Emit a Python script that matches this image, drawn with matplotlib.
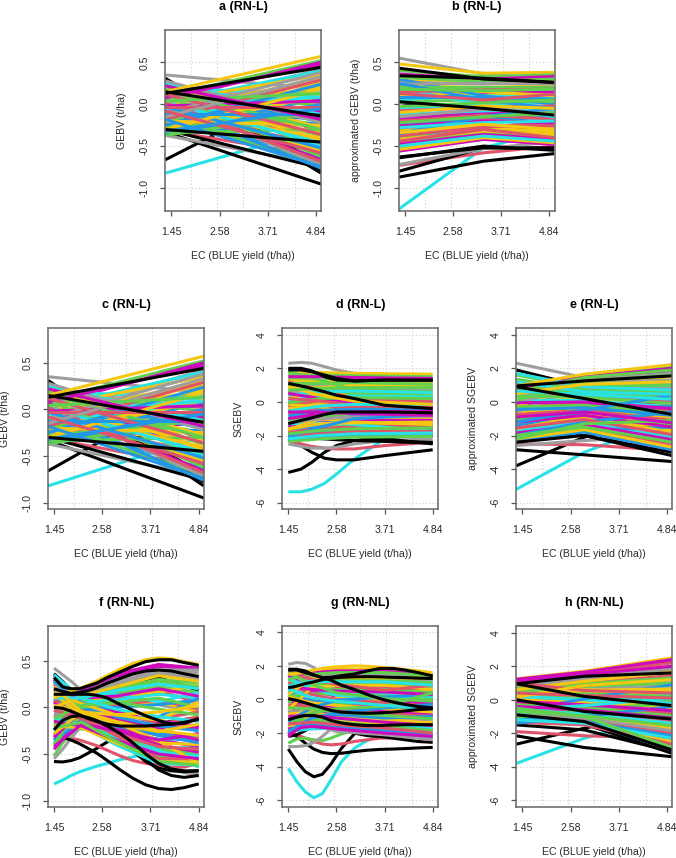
import matplotlib
matplotlib.use("Agg")
import matplotlib.pyplot as plt

plt.rcParams['font.family'] = ['Liberation Sans', 'DejaVu Sans']

PALETTE = dict(k='#000000', r='#DF536B', g='#61D04F', b='#2297E6',
               c='#28E2E5', m='#CD0BBC', y='#F5C710', a='#9E9E9E')
X_TICKS = [1.45, 2.58, 3.71, 4.84]
X_LABEL = "EC (BLUE yield (t/ha))"

# --- a / c : linear reaction norms (value at left edge, value at right edge)
ac_x = [1.31, 4.96]
ac_under = [[-.82,-.29],[-.66,.28],[-.33,-.95],[-.31,-.62],[.35,.18],[-.37,-.72],[.31,-.82],[.30,-.78],[-.30,-.76],[.28,-.70],[-.22,.10]]
ac_under_c = "ckkraakkkkk"
ac_bulk = [[.10,.52],[.05,.50],[.08,.47],[-.05,.42],[.02,.40],[-.10,.38],[-.02,.36],[.03,.35],[-.15,.33],[-.08,.30],
           [-.18,.29],[-.12,.27],[.00,.25],[-.25,.24],[-.20,.22],[-.05,.20],[-.30,.18],[-.10,.17],[-.16,.15],[.04,.13],
           [-.24,.12],[-.28,.10],[.06,.07],[.12,.05],[-.02,.04],[.12,.02],[.18,-.02],[-.03,-.03],[.08,-.06],[.25,-.12],
           [.22,-.18],[.10,-.20],[.28,-.22],[.05,-.25],[.20,-.28],[.16,-.30],[.24,-.32],[-.02,-.34],[.12,-.36],[.27,-.38],
           [-.05,-.40],[.06,-.42],[.18,-.44],[.02,-.46],[-.10,-.48],[.14,-.50],[-.03,-.52],[.22,-.54],[.00,-.56],[-.08,-.58],
           [.08,-.60],[.10,-.62],[-.12,-.64],[.03,-.66],[.02,-.68],[-.15,-.70],[.05,-.72],[-.18,-.74],[-.02,-.76],[-.35,.0],
           [-.32,-.05],[-.37,-.10],[-.28,-.12],[-.22,-.15],[-.25,-.08],[-.20,-.25],[-.30,-.22],[-.14,-.05],[-.12,-.12],[-.08,-.16],
           [-.34,-.30],[-.18,-.34],[.20,.11],[-.06,.09],[.15,-.09],[-.26,.06]]
ac_bulk_c = "gmmacaayayryybgyygcgcyrymrgrrcmbagygryrgymycrcbgyrmgbmrgabbbbggmmybbbggyccgb"
ac_top = [[.15,.57],[.13,.44],[.15,-.14],[-.30,-.45]]
ac_top_c = "ykkk"

# --- b : approximated GEBV (left edge, x=3.3, right edge)
b_x = [1.31, 3.3, 4.96]
b_under = [[-1.25,-.52,-.30],[-.87,-.68,-.59],[-.73,-.58,-.50],[-.80,-.52,-.52],[-.72,-.53,-.45],[-.64,-.50,-.55],[-.63,-.52,-.53],[.55,.36,.30],[.48,.37,.38],[-.18,-.12,-.26],[-.30,-.28,-.27],[.02,-.08,-.17]]
b_under_c = "ckrkakkaykkk"
b_bulk = [[.40,.33,.35],[.36,.30,.33],[.32,.27,.30],[.28,.27,.30],[.26,.24,.26],[.24,.25,.24],[.22,.20,.22],[.20,.20,.20],[.18,.16,.18],[.17,.14,.15],
          [.15,.17,.18],[.12,.11,.14],[.10,.15,.10],[.08,.08,.06],[.05,.10,.08],[.02,.06,.03],[-.03,.02,.05],[-.06,.00,.02],[-.08,-.04,-.02],[-.10,-.02,-.05],
          [-.12,-.08,-.06],[-.15,-.06,-.10],[-.17,-.10,-.14],[-.20,-.13,-.18],[-.22,-.15,-.10],[-.24,-.18,-.16],[-.26,-.20,-.22],[-.28,-.22,-.20],[-.30,-.18,-.25],[-.32,-.25,-.28],
          [-.34,-.24,-.30],[-.36,-.28,-.33],[-.38,-.26,-.26],[-.40,-.30,-.34],[-.42,-.32,-.36],[-.44,-.30,-.40],[-.46,-.34,-.38],[-.48,-.36,-.42],[-.50,-.38,-.44],[-.52,-.33,-.40],
          [-.54,-.40,-.46],[-.56,-.42,-.48],[-.45,-.28,-.20],[-.35,-.15,-.05],[-.42,-.20,-.12],[.30,.10,.00],[.25,.05,-.05],[.22,.02,-.08],[.18,.00,-.15],[.13,.05,.12]]
b_bulk_c = "gmgyaayggmryybcggcrycamrgbmcryyyrbyrgmcgymrbgbbbcrgmr"
b_top = [[.43,.30,.26],[.34,.31,.26],[.03,-.05,-.13]]
b_top_c = "kkk"

# --- d : SGEBV, linear RN, back-transformed
d_x_main = [1.45, 1.75, 2.0, 2.3, 2.58, 3.0, 3.71, 4.84]
d_under = [[-5.35,-5.35,-5.2,-4.85,-4.3,-3.4,-2.2,-1.8],[-4.2,-4.0,-3.6,-3.0,-2.6,-2.3,-2.1,-2.0],[-2.2,-2.6,-3.0,-3.35,-3.45,-3.45,-3.2,-2.85],
           [-2.3,-2.5,-2.65,-2.75,-2.8,-2.8,-2.6,-2.4],[-2.5,-2.65,-2.75,-2.75,-2.7,-2.5,-2.3,-2.2],[2.3,2.35,2.3,2.1,1.9,1.7,1.4,1.3],
           [-.55,-.6,-.7,-.9,-1.1,-1.5,-2.2,-2.5],[-1.0,-1.1,-1.3,-1.55,-1.75,-2.0,-2.35,-2.45],[-1.9,-2.05,-2.15,-2.2,-2.25,-2.3,-2.35,-2.4],[-.2,-.2,-.25,-.3,-.5,-.5,-.6,-.7]]
d_under_c = "ckkraakkkk"
d_x_bulk = [1.45, 2.2, 3.0, 4.84]
d_bulk = [[1.7,1.75,1.7,1.65],[1.6,1.6,1.55,1.5],[1.5,1.5,1.45,1.4],[1.35,1.3,1.35,1.35],[1.25,1.2,1.25,1.2],[1.1,1.1,1.15,1.05],[.95,1.0,1.05,1.0],[.8,.85,1.0,.9],
          [.7,.8,.85,.85],[.55,.7,.75,.7],[.4,.6,.65,.55],[.3,.45,.5,.45],[.1,.3,.35,.3],[-.05,.2,.25,.2],[-.3,.1,.1,.1],[-.4,-.1,.0,-.05],
          [-.55,-.25,-.15,-.15],[-.7,-.4,-.3,-.25],[-.85,-.5,-.45,-.4],[-1.0,-.7,-.6,-.55],[-1.1,-.85,-.75,-.7],[-1.25,-1.0,-.9,-.85],[-1.4,-1.1,-1.05,-1.0],[-1.5,-1.2,-1.1,-1.1],
          [-1.6,-1.3,-1.25,-1.2],[-1.7,-1.45,-1.3,-1.3],[-1.8,-1.6,-1.45,-1.45],[-1.9,-1.7,-1.6,-1.55],[-2.0,-1.8,-1.7,-1.65],[-2.1,-1.9,-1.75,-1.75],[-2.2,-2.0,-1.9,-1.85],[-2.25,-2.15,-2.0,-1.95],
          [-2.35,-2.2,-2.1,-2.05],[-1.45,-1.3,-.7,-.5],[-1.9,-1.4,-.8,-.6],[-2.1,-1.5,-1.0,-.75],[1.4,1.0,.6,.35],[1.2,.7,.2,.0],[.9,.4,.05,-.15],[.6,.15,-.35,-.5],
          [1.8,1.3,.7,.6],[.0,-.1,-.5,-.9],[-.15,-.3,-.8,-1.2],[.5,.2,-.1,-.3],[-2.3,-1.7,-1.4,-1.3],[-2.2,-1.85,-1.6,-1.6],
          [.2,.05,-.2,-.35],[-.9,-.95,-1.15,-1.5],[-1.3,-1.25,-1.35,-1.75],[-.6,-.6,-.7,-.8],[1.0,.85,.45,.2],[-1.65,-1.0,-1.2,-1.35]]
d_bulk_c = "ygmgygaygacycgrycrbmgaymygrgmrcbgbbbgryrgmymbbrycmgy"
d_top = [[2.0,2.0,1.85,1.5,1.3,1.25,1.3,1.3],[1.9,1.9,1.8,1.6,1.4,1.25,1.3,1.28],[1.1,.95,.8,.6,.4,.2,-.2,-.4],[-1.3,-1.1,-.95,-.75,-.6,-.6,-.6,-.65]]
d_top_c = "kkkk"

# --- e : approximated SGEBV
e_x = [1.31, 2.9, 4.96]
e_under = [[-5.2,-3.0,-1.0],[-3.8,-2.1,-.5],[-2.85,-3.15,-3.55],[-2.5,-2.55,-2.9],[-2.6,-2.3,-2.0],[2.3,1.45,.9],[1.9,.9,-.4],[.3,-.15,-1.0],[-1.1,-.55,-.9],[-2.0,-2.0,-3.0]]
e_under_c = "ckkraakkkk"
e_bulk = [[.9,1.6,2.1],[.8,1.5,2.0],[.6,1.45,1.9],[.7,1.4,1.8],[.3,1.3,1.7],[.1,1.2,1.6],[-.3,1.1,1.5],[-.1,1.15,1.3],[.5,1.05,1.2],[-.6,1.0,1.1],
          [.2,.95,1.0],[-.9,.9,.9],[.4,.85,.8],[1.7,.9,.7],[1.6,.85,.6],[1.35,.7,.5],[1.2,.6,.45],[1.05,.55,.35],[.85,.5,.25],[.65,.45,.15],
          [.55,.4,.05],[.35,.3,-.1],[.25,.2,-.2],[.1,.1,-.3],[-.05,.0,-.4],[-.2,-.1,-.55],[-.3,-.2,-.65],[-.45,-.35,-.8],[-.6,-.4,-.95],[-.75,-.5,-1.1],
          [-.9,-.6,-1.25],[-1.05,-.7,-1.4],[-1.2,-.8,-1.5],[-1.3,-.9,-1.65],[-1.45,-1.0,-1.8],[-1.55,-1.05,-1.95],[-1.7,-1.2,-2.1],[-1.85,-1.35,-2.25],[-2.0,-1.5,-2.4],[-2.1,-1.55,-2.55],
          [-2.2,-1.65,-2.7],[-2.3,-1.8,-2.85],[-2.4,-1.7,-1.5],[-2.0,-1.2,-.6],[-1.75,-1.05,-1.0],[-1.4,-.7,-.2],[-1.2,-.5,.4],[-.9,-.2,.0],[-1.6,-.8,-1.2],[-2.2,-1.3,-1.1]]
e_bulk_c = "gmgmagyayagcacggcrgcrgycmrgbyrmgmyyrcmgrybbbcbbmyg"
e_top = [[.95,1.65,2.22],[.9,.2,-.75],[-2.4,-2.0,-3.2],[.95,1.25,1.55]]
e_top_c = "ykkk"

# --- f : GEBV, non-linear RN
f_x_main = [1.45, 1.65, 1.85, 2.05, 2.25, 2.45, 2.7, 3.0, 3.3, 3.6, 3.9, 4.2, 4.5, 4.84]
f_under = [[-.82,-.78,-.73,-.69,-.66,-.63,-.6,-.56,-.53,-.5,-.47,-.45,-.43,-.42],
           [-.58,-.585,-.57,-.54,-.49,-.44,-.37,-.3,-.25,-.2,-.17,-.15,-.13,-.12],
           [-.3,-.31,-.33,-.35,-.38,-.41,-.46,-.52,-.57,-.6,-.62,-.64,-.64,-.6],
           [-.52,-.38,-.28,-.23,-.24,-.28,-.32,-.35,-.38,-.41,-.45,-.5,-.52,-.5],
           [-.55,-.45,-.33,-.22,-.16,-.15,-.2,-.3,-.42,-.52,-.6,-.66,-.7,-.72],
           [.42,.35,.28,.2,.17,.15,.13,.1,.08,.05,.03,.0,.0,.0],
           [-.3,-.32,-.35,-.39,-.44,-.49,-.57,-.67,-.76,-.83,-.87,-.88,-.86,-.82],
           [.36,.28,.18,.08,.0,-.06,-.15,-.28,-.42,-.56,-.67,-.73,-.75,-.73],
           [.35,.25,.14,.03,-.05,-.12,-.2,-.33,-.47,-.58,-.65,-.68,-.69,-.68]]
f_under_c = "ckrgaakkk"
f_x_bulk = [1.45, 2.1, 2.9, 3.9, 4.84]
f_bulk = [[.12,.2,.36,.46,.42],[.05,.18,.33,.44,.41],[-.1,.15,.3,.4,.37],[-.2,.12,.28,.38,.33],[-.3,.12,.25,.36,.30],[.0,.12,.22,.34,.28],[-.25,.08,.2,.3,.26],[-.4,.05,.2,.28,.22],
          [.1,.1,.18,.25,.2],[-.15,.06,.15,.22,.16],[.2,.1,.12,.2,.12],[.3,.05,.1,.18,.05],[-.05,.05,.08,.14,.1],[.15,.0,.05,.1,.0],[.25,.02,.03,.06,-.05],[-.35,-.02,.0,.03,.08],
          [.35,.1,-.02,-.1,-.15],[.3,.0,-.05,-.15,-.2],[.28,.05,-.1,-.2,-.25],[.22,-.05,-.15,-.25,-.3],[.15,-.02,-.2,-.3,-.32],[.1,-.06,-.18,-.3,-.38],[.05,-.1,-.22,-.35,-.42],[.0,-.08,-.25,-.38,-.4],
          [-.03,-.12,-.28,-.42,-.45],[-.08,-.15,-.3,-.45,-.5],[-.12,-.18,-.33,-.48,-.52],[-.15,-.2,-.35,-.5,-.55],[-.18,-.12,-.3,-.52,-.58],[-.2,-.22,-.38,-.55,-.6],[-.22,-.16,-.36,-.58,-.62],[-.25,-.2,-.4,-.6,-.62],
          [.08,-.1,-.3,-.55,-.55],[.2,-.05,-.28,-.5,-.45],[-.35,-.15,-.2,-.28,-.3],[-.42,-.18,-.25,-.35,-.28],[-.45,-.1,-.15,-.2,-.22],[.18,.0,-.12,-.1,.1],[-.28,-.05,-.08,-.05,.02],[-.1,-.08,-.1,-.12,-.05],
          [.32,.12,.3,.4,.4],[.27,.14,.24,.32,.18],[-.02,.06,.12,.16,.24],[.14,-.08,-.16,-.36,-.6],
          [.18,.16,.26,.36,.3],[.08,.1,.14,.06,.16],[-.12,.02,.06,-.02,-.08],[.24,.06,-.04,-.18,-.1],[-.32,-.04,-.12,-.22,-.36],[.02,-.04,-.18,-.26,-.18],
          [-.06,-.02,.02,.08,-.02],[.06,-.12,-.24,-.4,-.48],[-.38,-.12,-.32,-.44,-.54],[.28,-.02,-.24,-.46,-.64],[.16,.04,-.08,-.14,.06],[-.17,-.14,-.26,-.34,-.34]]
f_bulk_c = "mmaaayggcgmrcgybcmbyrbmyrgcmgygcrgbmmbyrakyyacgrmyrmgcyb"
f_top = [[.1,.14,.18,.2,.24,.28,.34,.41,.47,.51,.53,.52,.49,.46],
         [.32,.22,.2,.2,.23,.26,.32,.38,.44,.49,.51,.51,.48,.45],
         [.14,.14,.14,.14,.14,.13,.1,.03,-.03,-.09,-.14,-.18,-.17,-.12],
         [.0,-.01,-.04,-.08,-.12,-.15,-.18,-.2,-.2,-.2,-.19,-.18,-.16,-.13],
         [-.24,-.14,-.1,-.09,-.11,-.14,-.2,-.28,-.38,-.5,-.6,-.66,-.68,-.68],
         [.2,.17,.15,.16,.18,.21,.26,.31,.36,.39,.4,.39,.36,.33]]
f_top_c = "ykkkkk"

# --- g : SGEBV, non-linear RN
g_x_main = [1.45, 1.65, 1.85, 2.05, 2.25, 2.45, 2.7, 3.0, 3.3, 3.6, 3.9, 4.2, 4.5, 4.84]
g_under = [[-4.1,-4.9,-5.5,-5.85,-5.6,-4.8,-3.7,-2.9,-2.45,-2.15,-2.0,-1.9,-1.85,-1.8],
           [-2.95,-3.7,-4.3,-4.6,-4.45,-3.85,-2.9,-2.05,-1.7,-1.55,-1.5,-1.45,-1.42,-1.4],
           [-1.9,-2.2,-2.6,-2.95,-3.15,-3.22,-3.2,-3.1,-3.02,-2.97,-2.95,-2.92,-2.88,-2.85],
           [-2.0,-2.1,-2.3,-2.5,-2.65,-2.7,-2.65,-2.5,-2.4,-2.3,-2.28,-2.25,-2.22,-2.2],
           [-2.6,-2.35,-2.3,-2.4,-2.45,-2.3,-2.05,-1.85,-1.75,-1.7,-1.72,-1.75,-1.78,-1.8],
           [-2.8,-2.8,-2.75,-2.55,-2.2,-1.75,-1.3,-1.0,-.85,-.8,-.8,-.85,-.88,-.9],
           [2.1,2.2,2.15,1.9,1.5,1.1,.75,.5,.45,.4,.38,.35,.32,.3],
           [-2.2,-2.1,-1.85,-1.55,-1.4,-1.5,-1.75,-2.0,-2.15,-2.2,-2.3,-2.4,-2.5,-2.55]]
g_under_c = "ckkrgaak"
g_x_bulk = [1.45, 2.0, 2.58, 3.71, 4.84]
g_bulk = [[1.5,1.7,1.8,1.8,1.5],[1.4,1.6,1.7,1.7,1.45],[1.2,1.5,1.6,1.6,1.4],[.9,1.4,1.55,1.55,1.3],[.6,1.3,1.4,1.35,1.2],[.3,1.25,1.3,1.3,1.25],[.1,1.1,1.25,1.25,1.15],[-.2,.9,1.15,1.15,1.0],
          [.8,1.1,1.05,1.05,.85],[.55,.95,.95,.95,.75],[-.6,.7,.85,.85,.6],[1.3,1.0,.75,.7,.5],[1.1,.8,.6,.6,.4],[.75,.6,.5,.45,.3],[.45,.5,.4,.3,.15],[.2,.35,.3,.2,.05],
          [1.6,.9,.4,.05,-.1],[1.45,.5,.2,-.05,-.25],[1.0,.3,.0,-.2,-.4],[.65,.1,-.1,-.35,-.55],[.4,-.1,-.25,-.45,-.6],[.15,-.2,-.35,-.55,-.75],[-.1,-.35,-.5,-.7,-.9],[-.3,-.4,-.6,-.85,-1.0],
          [-.5,-.55,-.75,-.95,-1.15],[-.7,-.7,-.9,-1.05,-1.25],[-.85,-.8,-1.0,-1.2,-1.4],[-1.0,-.95,-1.1,-1.35,-1.55],[-1.15,-1.1,-1.2,-1.5,-1.7],[-1.3,-1.2,-1.35,-1.6,-1.85],[-1.45,-1.35,-1.5,-1.7,-2.0],[-1.6,-1.5,-1.6,-1.85,-2.1],
          [-1.75,-1.6,-1.75,-2.0,-2.2],[-1.9,-1.75,-1.7,-1.9,-2.3],[-2.2,-1.0,-.5,-.2,.0],[-1.9,-1.1,-.8,-.5,-.3],[-2.1,-1.3,-.7,-.8,-.6],[-1.8,-1.5,-.9,-1.1,-1.0],[-1.5,-.8,-.55,-.4,.4],[-1.0,-.6,.1,.0,.7],
          [1.25,.7,.25,.1,.2],[.05,.0,-.15,-.1,-.2],[-.45,-.25,-.2,-.3,-.45],[-1.3,-.5,-.05,.15,.3],[-.8,-.15,.05,.25,-.05],[-1.7,-.9,-1.3,-1.5,-1.35],[1.65,1.2,.9,.55,.85],[-1.25,-1.45,-1.9,-2.1,-2.4]]
g_bulk_c = "ymgaayagcgyrgmcggmrcbymrgaymcgrbmcmbmbgycrgbmyra"
g_top = [[1.5,1.55,1.65,1.75,1.85,1.92,1.96,2.0,1.98,1.92,1.85,1.78,1.7,1.6],
         [1.8,1.8,1.7,1.45,1.3,1.32,1.42,1.52,1.7,1.85,1.85,1.75,1.6,1.4],
         [1.75,1.75,1.6,1.45,1.3,1.15,.85,.6,.3,.05,-.15,-.3,-.42,-.5],
         [.7,.8,.95,1.05,1.18,1.27,1.32,1.35,1.36,1.35,1.32,1.3,1.27,1.25],
         [.05,-.05,-.2,-.35,-.5,-.65,-.75,-.8,-.82,-.8,-.75,-.68,-.6,-.55],
         [-1.2,-1.05,-.95,-.95,-1.05,-1.25,-1.4,-1.5,-1.55,-1.55,-1.52,-1.5,-1.5,-1.5]]
g_top_c = "ykkkkk"

# --- h : approximated SGEBV, non-linear RN
h_x = [1.31, 2.9, 4.96]
h_under = [[-3.8,-2.3,-.8],[-2.65,-1.7,-.6],[-2.15,-2.85,-3.4],[-1.9,-2.15,-2.3],[-1.5,-1.8,-3.1],[-.8,-1.45,-3.2],[.4,-.1,-.7]]
h_under_c = "ckkrkkk"
h_bulk = [[1.2,1.6,2.3],[1.15,1.55,2.2],[1.1,1.5,2.0],[.85,1.3,1.9],[.75,1.2,1.8],[.6,1.1,1.65],[.5,1.0,1.45],[.3,.95,1.3],[.15,.85,1.2],[.05,.7,1.1],
          [.65,.8,1.0],[-.1,.6,.9],[.45,.7,.8],[.25,.55,.65],[-.3,.5,.6],[.9,.6,.5],[1.0,.55,.4],[.7,.45,.3],[.55,.35,.2],[.4,.25,.1],
          [.35,.1,-.05],[.2,.0,-.2],[.1,-.1,-.35],[.0,-.2,-.5],[-.1,-.3,-.65],[-.2,-.45,-.8],[-.3,-.5,-.95],[-.4,-.6,-1.1],[-.5,-.75,-1.25],[-.6,-.85,-1.4],
          [-.7,-.95,-1.55],[-.8,-1.05,-1.7],[-.9,-1.1,-1.85],[-1.0,-1.2,-2.0],[-1.1,-1.3,-2.15],[-1.2,-1.4,-2.3],[-1.3,-1.45,-2.5],[-1.35,-1.5,-2.65],[-.5,-1.0,-2.85],[-1.25,-1.3,-3.0],
          [-1.4,-1.0,-.4],[-1.15,-.55,.0],[-.9,-.2,.3],[-.7,.05,.9],[-1.3,-.8,-1.1],[-1.05,-.6,-.2],[-.6,-.35,.1],[-.85,-.5,-.75]]
h_bulk_c = "mrmaayrgyagyayayrygrgcyymrgmrcgyarbcyrgbbacbcgcr"
h_top = [[1.25,1.7,2.5],[1.22,1.65,2.4],[.95,1.4,1.6],[.95,.2,-.35],[.0,-.7,-1.15],[-.9,-1.3,-3.0]]
h_top_c = "ymkkkk"


def panel(box, tick_px, y_ticks, y_px, title, ylabel, layers):
    left, top, right, bottom = box
    W, H = 676, 858
    ax = fig.add_axes([left / W, 1 - bottom / H, (right - left) / W, (bottom - top) / H])
    # axis limits follow from the tick positions measured on the picture
    x_per_px = (X_TICKS[-1] - X_TICKS[0]) / (tick_px[1] - tick_px[0])
    ax.set_xlim(X_TICKS[0] + (left - tick_px[0]) * x_per_px, X_TICKS[0] + (right - tick_px[0]) * x_per_px)
    y_per_px = (y_ticks[0] - y_ticks[-1]) / (y_px[-1] - y_px[0])
    ax.set_ylim(y_ticks[0] + (y_px[0] - bottom) * y_per_px, y_ticks[0] + (y_px[0] - top) * y_per_px)

    for k in range(1, 6):
        ax.axvline(ax.get_xlim()[0] + k * (ax.get_xlim()[1] - ax.get_xlim()[0]) / 6,
                   color='#cfcfcf', lw=0.8, ls=(0, (1, 2)), zorder=1)
    for t in y_ticks:
        ax.axhline(t, color='#cfcfcf', lw=0.8, ls=(0, (1, 2)), zorder=1)

    z = 2
    for xs, rows, colors, shuffle in layers:
        idx = list(range(len(rows)))
        if shuffle:
            idx.sort(key=lambda i: (i * 37) % 101)
        col = list(colors) * (len(rows) // len(colors) + 1)
        for i in idx:
            ax.plot(xs, rows[i], color=PALETTE[col[i]], lw=2.2, solid_capstyle='butt',
                    solid_joinstyle='round', zorder=z)
            z += 0.001

    ax.set_xticks(X_TICKS)
    ax.set_xticklabels([f"{t:.2f}" for t in X_TICKS])
    ax.set_yticks(y_ticks)
    labels = [f"{t:d}" if isinstance(t, int) else f"{t:.1f}" for t in y_ticks]
    ax.set_yticklabels(labels, rotation=90, va='center')
    ax.tick_params(axis='both', length=3.8, width=0.9, color='#555555', labelsize=7.6, labelcolor='#2a2a2a', pad=7.5)
    for s in ax.spines.values():
        s.set_color('#666666')
        s.set_linewidth(1.1)
        s.set_zorder(50)
    ax.set_title(title, fontsize=9, fontweight='bold', pad=14.5, color='black')
    ax.set_xlabel(X_LABEL, fontsize=7.6, color='#2a2a2a')
    ax.xaxis.set_label_coords(0.5, -40 / (bottom - top))
    ax.set_ylabel(ylabel, fontsize=7.6, color='#2a2a2a')
    ax.yaxis.label.set_va('center')
    ax.yaxis.set_label_coords(-43.5 / (right - left), 0.5)
    return ax


fig = plt.figure(figsize=(6.76, 8.58), dpi=100, facecolor='white')

T1 = [-1.0, -0.5, 0.0, 0.5]
T2 = [-6, -4, -2, 0, 2, 4]

panel((165.3, 30, 321, 211), (171.3, 316), T1, [188.3, 146.7, 104.3, 62.3], "a (RN-L)", "GEBV (t/ha)",
      [(ac_x, ac_under, ac_under_c, False), (ac_x, ac_bulk, ac_bulk_c, True), (ac_x, ac_top, ac_top_c, False)])
panel((399.3, 30, 555, 211), (405, 549), T1, [188, 146.7, 104, 62.3], "b (RN-L)", "approximated GEBV (t/ha)",
      [(b_x, b_under, b_under_c, False), (b_x, b_bulk, b_bulk_c, True), (b_x, b_top, b_top_c, False)])
panel((48.3, 327.7, 204.3, 509), (54, 198.7), T1, [502.7, 456.3, 409.7, 362.7], "c (RN-L)", "GEBV (t/ha)",
      [(ac_x, ac_under, ac_under_c, False), (ac_x, ac_bulk, ac_bulk_c, True), (ac_x, ac_top, ac_top_c, False)])
panel((282.3, 327.7, 438.3, 509.3), (288.3, 432.7), T2, [502.7, 469.3, 435.7, 402, 368.3, 334.7], "d (RN-L)", "SGEBV",
      [(d_x_main, d_under, d_under_c, False), (d_x_bulk, d_bulk, d_bulk_c, True), (d_x_main, d_top, d_top_c, False)])
panel((516.3, 327.7, 672.3, 509.3), (522.3, 667), T2, [502.7, 469.3, 435.7, 402, 368.3, 334.7], "e (RN-L)", "approximated SGEBV",
      [(e_x, e_under, e_under_c, False), (e_x, e_bulk, e_bulk_c, True), (e_x, e_top, e_top_c, False)])
panel((48.3, 625.7, 204.3, 807.3), (54, 198.7), T1, [800.7, 754.3, 707.3, 660.7], "f (RN-NL)", "GEBV (t/ha)",
      [(f_x_main, f_under, f_under_c, False), (f_x_bulk, f_bulk, f_bulk_c, True), (f_x_main, f_top, f_top_c, False)])
panel((282.3, 626, 438.3, 807.3), (288.3, 432.7), T2, [800.3, 766.7, 733.3, 700, 666.3, 632.3], "g (RN-NL)", "SGEBV",
      [(g_x_main, g_under, g_under_c, False), (g_x_bulk, g_bulk, g_bulk_c, True), (g_x_main, g_top, g_top_c, False)])
panel((516.3, 626, 672.3, 807.3), (522.3, 667), T2, [800.3, 767, 733.3, 700, 666.3, 632.7], "h (RN-NL)", "approximated SGEBV",
      [(h_x, h_under, h_under_c, False), (h_x, h_bulk, h_bulk_c, True), (h_x, h_top, h_top_c, False)])

fig.savefig("out.png", dpi=100)
